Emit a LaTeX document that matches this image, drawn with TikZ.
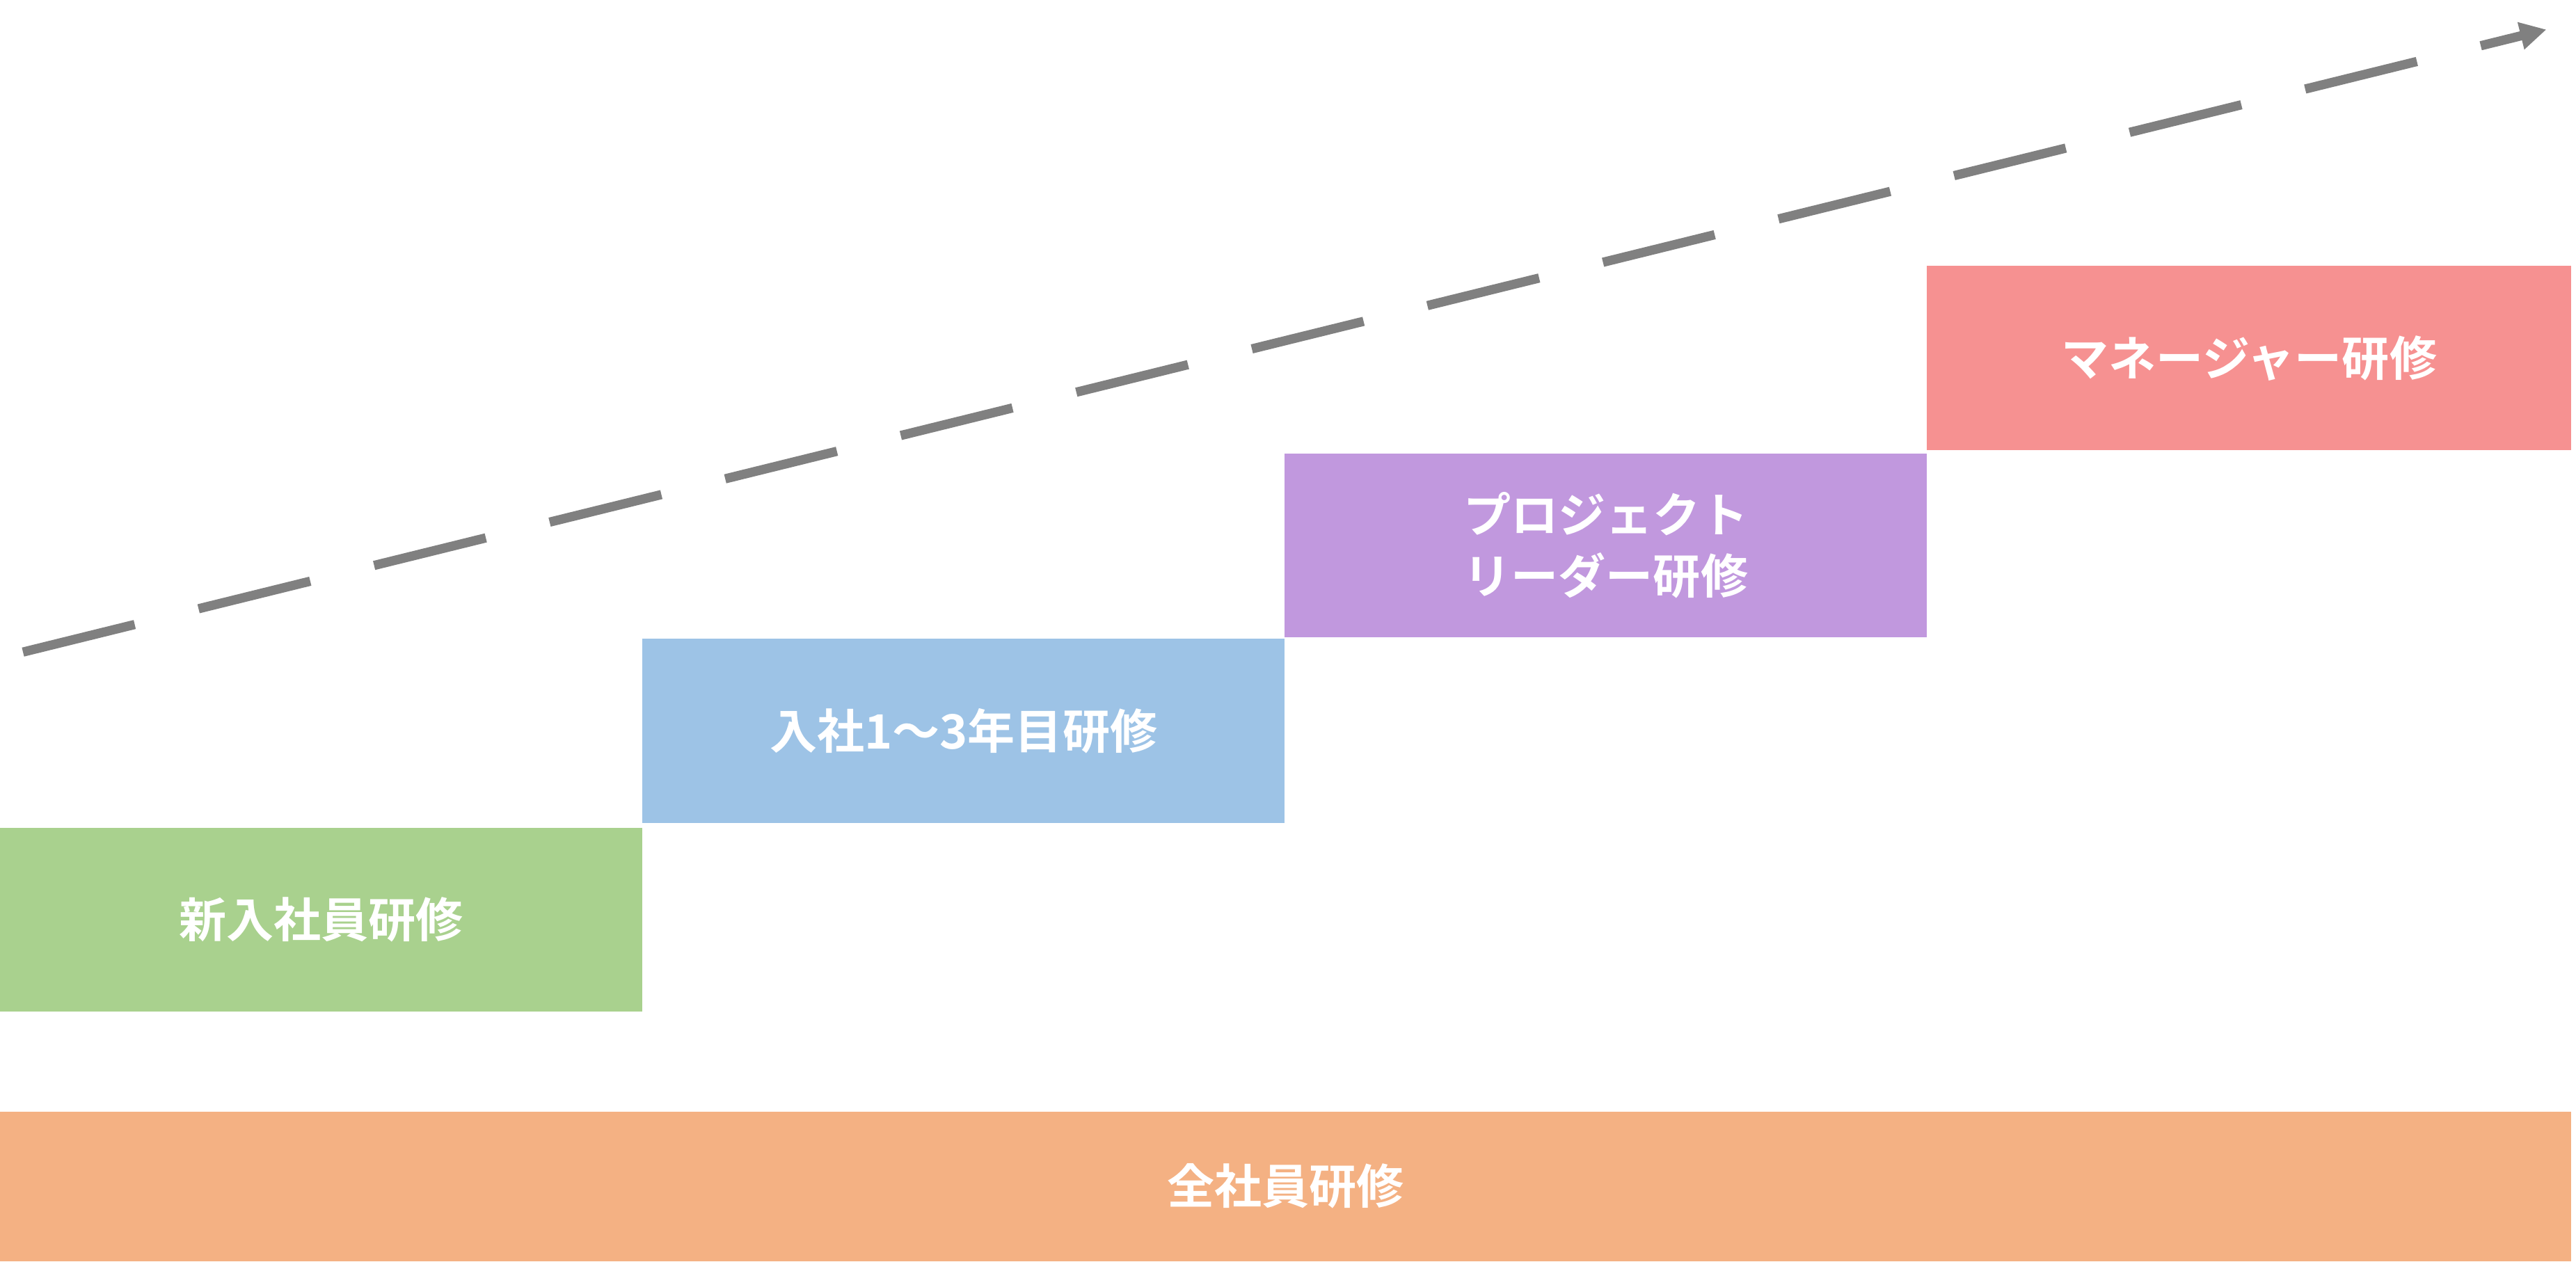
\documentclass[tikz,border=0pt]{standalone}
\usepackage{fontspec}
\newfontfamily\jp{Noto Sans CJK JP}[BoldFont={Noto Sans CJK JP Bold}]
\usetikzlibrary{arrows.meta}
\definecolor{cgreen}{HTML}{A9D18E}
\definecolor{cblue}{HTML}{9DC3E6}
\definecolor{cpurple}{HTML}{C198DE}
\definecolor{cred}{HTML}{F69191}
\definecolor{corange}{HTML}{F4B183}
\definecolor{cgray}{HTML}{808080}
\begin{document}
\begin{tikzpicture}[x=0.01cm,y=-0.01cm,
  stage/.style={inner sep=0pt,align=center,text=white,font=\jp\bfseries\fontsize{8.2}{10.5}\selectfont}]
\useasboundingbox (0,0) rectangle (1568,768);
\fill[cgreen] (0,504) rectangle (391,616);
\node[stage] (a) at (195.5,560) {新入社員研修};
\fill[cblue] (391,389) rectangle (782,501);
\node[stage] (b) at (586.5,445) {入社1～3年目研修};
\fill[cpurple] (782,276) rectangle (1173,388);
\node[stage] (c) at (977.5,332) {プロジェクト\\リーダー研修};
\fill[cred] (1173,162) rectangle (1565,274);
\node[stage] (d) at (1369,218) {マネージャー研修};
\fill[corange] (0,677) rectangle (1565,768);
\node[stage] (e) at (782.5,722) {全社員研修};
\coordinate (s) at (14,397);
\coordinate (t) at (1550,18);
\draw[cgray,line width=1.6pt,dash pattern=on 0.7cm off 0.4cm,-{Triangle[length=0.16cm,width=0.16cm]}] (s) -- (t);
\end{tikzpicture}
\end{document}
